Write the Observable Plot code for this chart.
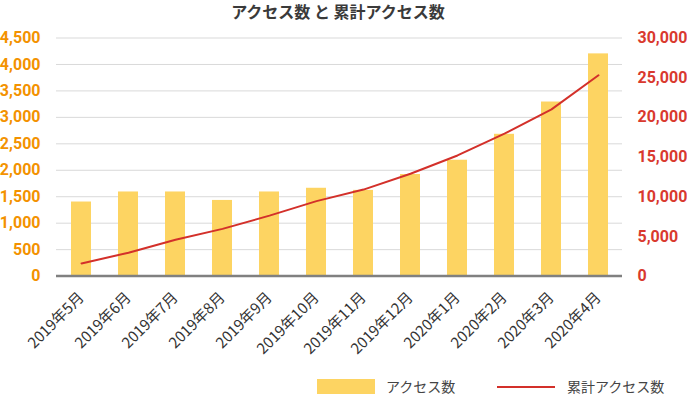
<!DOCTYPE html>
<html>
<head>
<meta charset="utf-8">
<script src="https://cdn.jsdelivr.net/npm/d3@7"></script>
<script src="https://cdn.jsdelivr.net/npm/@observablehq/plot@0.6"></script>
<style>
  body { margin: 0; background: #fff; }
  #wrap { position: relative; width: 687px; height: 395px; font-family: "Noto Sans CJK JP", "Noto Sans", sans-serif; }
  #title { position: absolute; left: 55px; width: 566px; top: -1px; text-align: center; font-size: 16px; font-weight: 700; color: #3a3a3a; line-height: 24px; }
  #chart { position: absolute; left: 0; top: 28px; }
  .lg { position: absolute; font-size: 14px; color: #444; line-height: 16px; }
</style>
</head>
<body>
<div id="wrap">
  <div id="title">アクセス数 と 累計アクセス数</div>
  <div id="chart"></div>
  <div style="position:absolute;left:317px;top:379px;width:58px;height:15px;background:#FDD462"></div>
  <div class="lg" style="left:386px;top:378px;">アクセス数</div>
  <div style="position:absolute;left:497px;top:385.5px;width:58px;height:2px;background:#D3302A"></div>
  <div class="lg" style="left:567px;top:378px;">累計アクセス数</div>
</div>
<script>
const months = ["2019年5月","2019年6月","2019年7月","2019年8月","2019年9月","2019年10月","2019年11月","2019年12月","2020年1月","2020年2月","2020年3月","2020年4月"];
const access = [1400, 1590, 1590, 1430, 1590, 1660, 1620, 1920, 2190, 2680, 3290, 4200];
const cumulative = [1600, 2950, 4580, 5950, 7620, 9450, 10900, 12900, 15200, 17950, 21000, 25300];
const leftTicks = [0, 500, 1000, 1500, 2000, 2500, 3000, 3500, 4000, 4500];
const rightTicks = [0, 5000, 10000, 15000, 20000, 25000, 30000];
const leftMax = 4500, rightMax = 30000;
const ratio = leftMax / rightMax;

const barData = months.map((m, i) => ({month: m, value: access[i]}));
const lineData = months.map((m, i) => ({month: m, value: cumulative[i] * ratio}));
const fmt = d3.format(",");

const chart = Plot.plot({
  width: 687,
  height: 340,
  marginTop: 9.5,
  marginBottom: 92.4,
  marginLeft: 56,
  marginRight: 65,
  style: {fontFamily: "Roboto, 'Noto Sans CJK JP', sans-serif", background: "transparent"},
  x: {domain: months, paddingInner: 0.575, paddingOuter: 0.2875, label: null},
  y: {domain: [0, leftMax], label: null},
  marks: [
    Plot.ruleY(leftTicks.filter(d => d > 0), {stroke: "#d9d9d9", strokeWidth: 1, strokeOpacity: 1}),
    Plot.barY(barData, {x: "month", y: "value", fill: "#FDD462"}),
    Plot.ruleY([0], {stroke: "#808080", strokeWidth: 2.5}),
    Plot.line(lineData, {x: "month", y: "value", stroke: "#D3302A", strokeWidth: 2}),
    Plot.axisY(leftTicks, {anchor: "left", tickSize: 0, tickPadding: 16, tickFormat: fmt, fill: "#F39200", fontSize: 16, fontWeight: "bold", fontFamily: "Roboto", label: null}),
    Plot.axisY(rightTicks.map(d => d * ratio), {anchor: "right", tickSize: 0, tickPadding: 15, tickFormat: d => fmt(Math.round(d / ratio)), fill: "#D9392E", fontSize: 16, fontWeight: "bold", fontFamily: "Roboto", label: null}),
    Plot.axisX({tickRotate: -45, tickSize: 0, tickPadding: 19, fontSize: 15, fill: "#333", fontFamily: "Noto Sans CJK JP", label: null})
  ]
});
document.getElementById("chart").appendChild(chart);
</script>
</body>
</html>
